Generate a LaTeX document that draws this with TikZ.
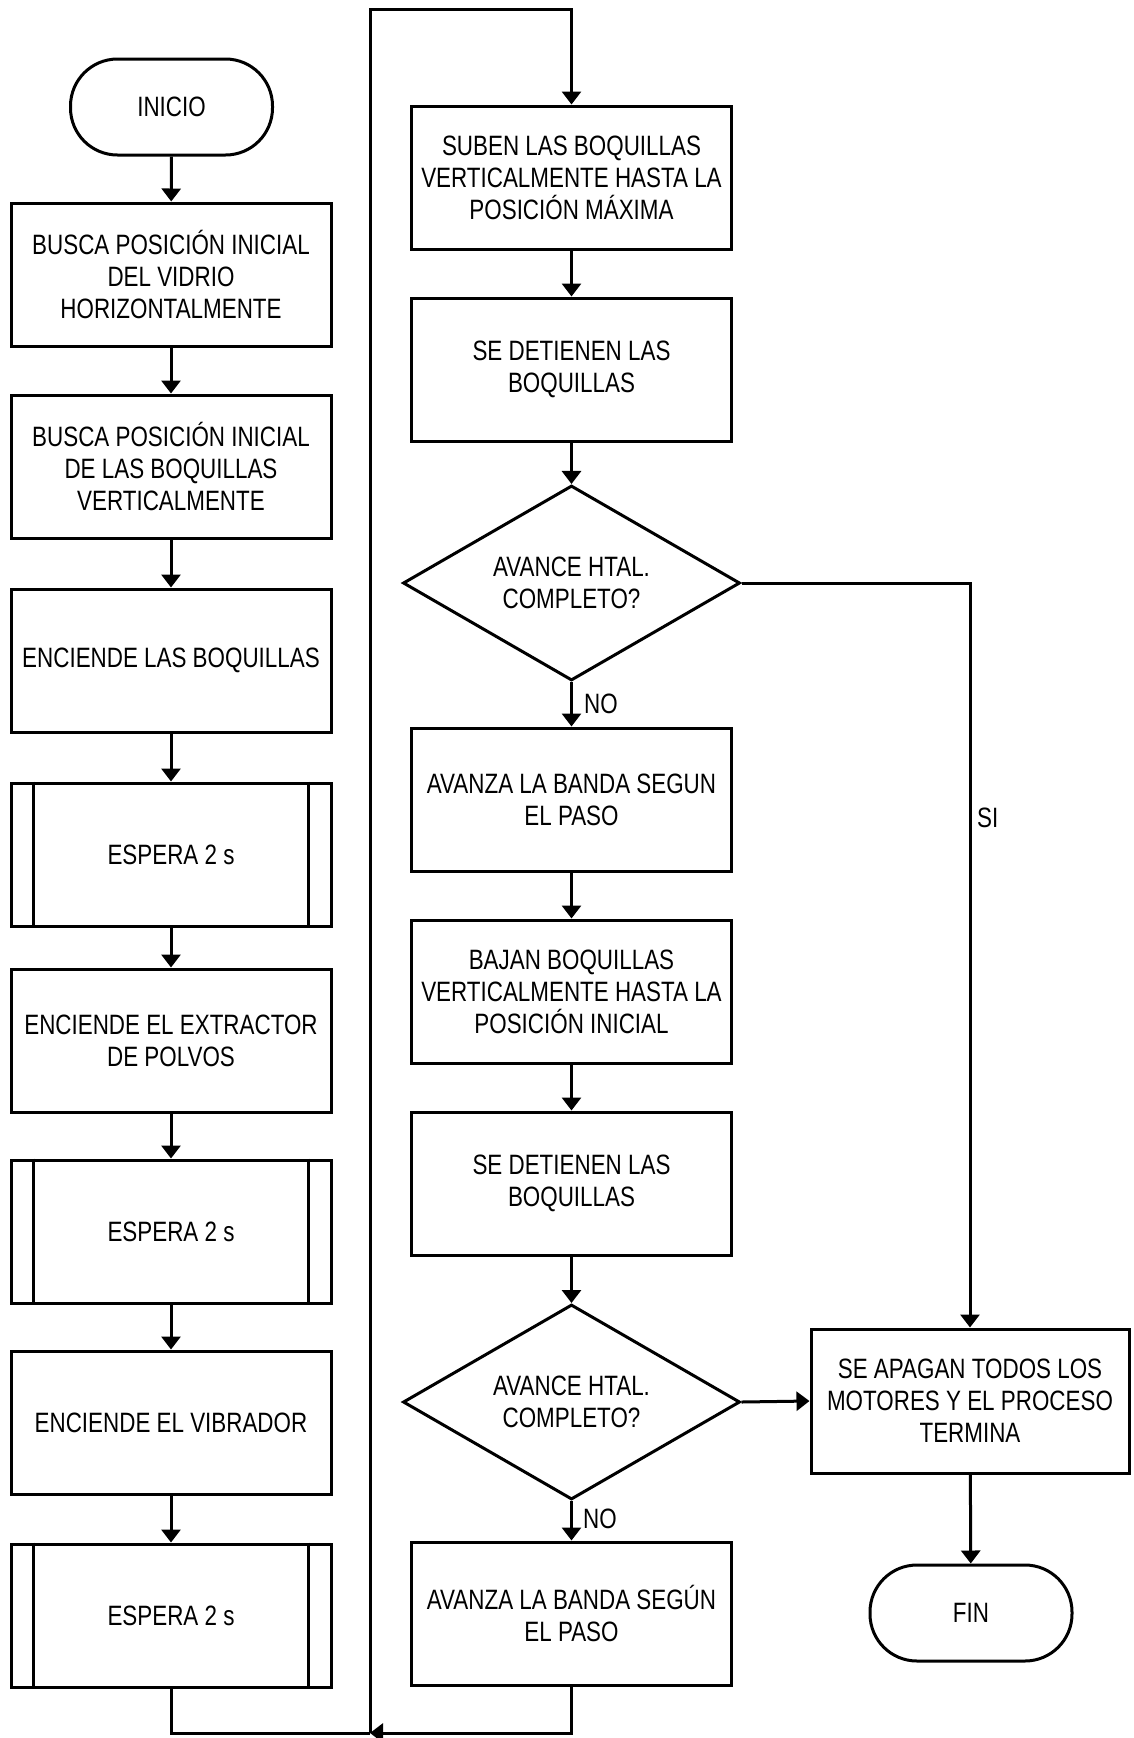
\documentclass[tikz,border=0pt]{standalone}
\usepackage{fontspec}
\setmainfont{Liberation Sans}[FakeStretch=0.8]
\usetikzlibrary{arrows.meta,shapes.geometric}
\tikzset{
  base/.style={draw, line width=3pt, align=center, inner sep=0pt,
    font=\fontsize{28}{32}\selectfont},
  procbox/.style={base, rectangle, minimum width=320pt, minimum height=143pt},
  termbox/.style={base, rectangle, rounded corners=47pt, minimum width=202pt, minimum height=96pt},
  decbox/.style={base, diamond, aspect=1.73, minimum width=337pt, minimum height=195pt},
  arr/.style={line width=3pt, -{Triangle[width=19pt,length=13pt]}},
  ln/.style={line width=3pt},
  lbl/.style={font=\fontsize{28}{32}\selectfont, inner sep=0pt}
}
\begin{document}
\begin{tikzpicture}[x=1pt,y=-1pt]
\useasboundingbox (0,0) rectangle (1133,1738);
% left column
\node[termbox] (ini) at (171.5,107) {INICIO};
\node[procbox] (b1) at (171,274.5) {BUSCA POSICIÓN INICIAL\\DEL VIDRIO\\HORIZONTALMENTE};
\node[procbox] (b2) at (171,466.5) {BUSCA POSICIÓN INICIAL\\DE LAS BOQUILLAS\\VERTICALMENTE};
\node[procbox] (e1) at (171,660.5) {ENCIENDE LAS BOQUILLAS};
\node[procbox] (w1) at (171,854.5) {ESPERA 2 s};
\node[procbox] (e2) at (171,1040.5) {ENCIENDE EL EXTRACTOR\\DE POLVOS};
\node[procbox] (w2) at (171,1231.5) {ESPERA 2 s};
\node[procbox] (e3) at (171,1422.5) {ENCIENDE EL VIBRADOR};
\node[procbox] (w3) at (171,1615.5) {ESPERA 2 s};
\foreach \w in {w1,w2,w3}{
  \draw[ln] ([xshift=24pt]\w.north west) -- ([xshift=24pt]\w.south west);
  \draw[ln] ([xshift=-24pt]\w.north east) -- ([xshift=-24pt]\w.south east);
}
% middle column
\node[procbox] (su) at (571.5,177.5) {SUBEN LAS BOQUILLAS\\VERTICALMENTE HASTA LA\\POSICIÓN MÁXIMA};
\node[procbox] (d1) at (571.5,369.5) {SE DETIENEN LAS\\BOQUILLAS};
\node[decbox] (q1) at (571.5,583) {AVANCE HTAL.\\COMPLETO?};
\node[procbox] (a1) at (571.5,799.5) {AVANZA LA BANDA SEGUN\\EL PASO};
\node[procbox] (ba) at (571.5,991.5) {BAJAN BOQUILLAS\\VERTICALMENTE HASTA LA\\POSICIÓN INICIAL};
\node[procbox] (d2) at (571.5,1183.5) {SE DETIENEN LAS\\BOQUILLAS};
\node[decbox] (q2) at (571.5,1402) {AVANCE HTAL.\\COMPLETO?};
\node[procbox] (a2) at (571.5,1613.5) {AVANZA LA BANDA SEGÚN\\EL PASO};
% right column
\node[procbox, minimum width=318pt, minimum height=144pt] (ap) at (970,1401) {SE APAGAN TODOS LOS\\MOTORES Y EL PROCESO\\TERMINA};
\node[termbox] (fin) at (971,1613) {FIN};
% loop coordinates
\coordinate (lb) at (370,1733);
\coordinate (lt) at (370,9);
% connectors left
\draw[arr] (ini) -- (b1);
\draw[arr] (b1) -- (b2);
\draw[arr] (b2) -- (e1);
\draw[arr] (e1) -- (w1);
\draw[arr] (w1) -- (e2);
\draw[arr] (e2) -- (w2);
\draw[arr] (w2) -- (e3);
\draw[arr] (e3) -- (w3);
\draw[ln] (w3.south) |- (lb);
\draw[arr] (a2.south) |- (lb);
\draw[arr] (lb) -- (lt) -| (su.north);
% connectors middle
\draw[arr] (su) -- (d1);
\draw[arr] (d1) -- (q1);
\draw[arr] (q1) -- (a1);
\draw[arr] (a1) -- (ba);
\draw[arr] (ba) -- (d2);
\draw[arr] (d2) -- (q2);
\draw[arr] (q2) -- (a2);
% right connectors
\draw[arr] (q1.east) -| (ap.north);
\draw[arr] (q2.east) -- (ap.west);
\draw[arr] (ap) -- (fin);
% labels
\node[lbl, anchor=west] (no1) at (584,704) {NO};
\node[lbl, anchor=west] (no2) at (583,1519) {NO};
\node[lbl, anchor=west] (si) at (977,818) {SI};
\end{tikzpicture}
\end{document}
